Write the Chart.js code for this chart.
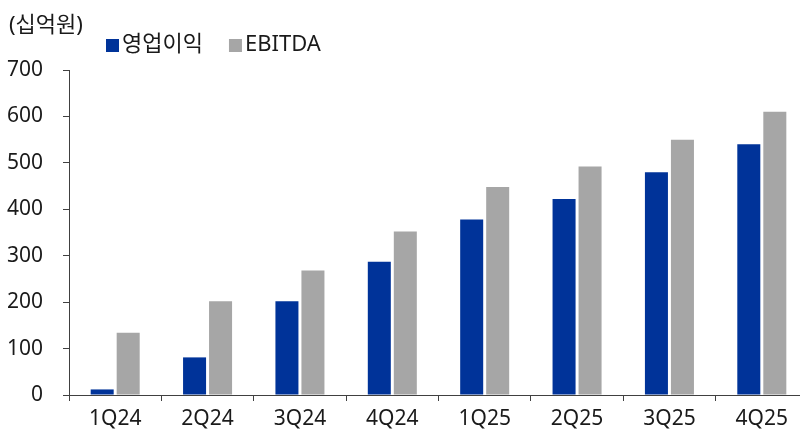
<!DOCTYPE html>
<html>
<head>
<meta charset="utf-8">
<script src="https://cdn.jsdelivr.net/npm/chart.js@4/dist/chart.umd.min.js"></script>
<style>
  html, body { margin: 0; padding: 0; background: #fff; overflow: hidden; }
  #wrap { width: 809px; height: 430px; }
</style>
</head>
<body>
<div id="wrap"><canvas id="c" width="809" height="430"></canvas></div>
<script>
// Quarterly operating profit vs EBITDA (unit: 10억원)
const quarters = ['1Q24', '2Q24', '3Q24', '4Q24', '1Q25', '2Q25', '3Q25', '4Q25'];
const operatingProfit = [12, 81, 202, 287, 378, 422, 480, 540];
const ebitda = [134, 202, 268, 352, 448, 492, 550, 610];
const yTicks = [0, 100, 200, 300, 400, 500, 600, 700];
const unitLabel = '(십억원)';
const seriesNames = ['영업이익', 'EBITDA'];

const FONT = "'Noto Sans', 'Noto Sans CJK KR', sans-serif";
const TEXT = '#1a1a1a';
const AXIS = '#404040';

// Unit caption and a compact legend at the upper left
const headerPlugin = {
  id: 'header',
  afterDraw(chart) {
    const ctx = chart.ctx;
    ctx.save();
    ctx.fillStyle = TEXT;
    ctx.font = '22px ' + FONT;
    ctx.textBaseline = 'middle';
    ctx.textAlign = 'left';
    ctx.fillText(unitLabel, 9, 26);

    let x = 106;
    const y = 45;
    chart.data.datasets.forEach((ds) => {
      ctx.fillStyle = ds.backgroundColor;
      ctx.fillRect(x, y - 6, 13, 13);
      ctx.fillStyle = TEXT;
      ctx.fillText(ds.label, x + 16, y);
      x += 16 + ctx.measureText(ds.label).width + 26;
    });
    ctx.restore();
  }
};

new Chart(document.getElementById('c'), {
  type: 'bar',
  data: {
    labels: quarters,
    datasets: [
      { label: seriesNames[0], data: operatingProfit, backgroundColor: '#003399',
        categoryPercentage: 0.563, barPercentage: 0.885 },
      { label: seriesNames[1], data: ebitda, backgroundColor: '#a6a6a6',
        categoryPercentage: 0.563, barPercentage: 0.885 }
    ]
  },
  options: {
    responsive: false,
    animation: false,
    devicePixelRatio: 1,
    layout: { padding: { top: 70, right: 1, bottom: 0, left: 0 } },
    plugins: {
      legend: { display: false },
      title: { display: false },
      tooltip: { enabled: false }
    },
    scales: {
      x: {
        grid: { display: true, drawOnChartArea: false, drawTicks: true, tickLength: 6, color: AXIS, offset: true },
        border: { display: true, color: AXIS, width: 1 },
        ticks: { color: TEXT, font: { family: FONT, size: 21 }, padding: 5, maxRotation: 0 },
        afterFit(s) { s.height = 35; }
      },
      y: {
        min: 0,
        max: 700,
        afterBuildTicks(s) { s.ticks = yTicks.map(v => ({ value: v })); },
        grid: { display: true, drawOnChartArea: false, drawTicks: true, tickLength: 6, color: AXIS },
        border: { display: true, color: AXIS, width: 1 },
        ticks: { color: TEXT, font: { family: FONT, size: 21 }, padding: 20 },
        afterFit(s) { s.width = 69; }
      }
    }
  },
  plugins: [headerPlugin]
});
</script>
</body>
</html>
